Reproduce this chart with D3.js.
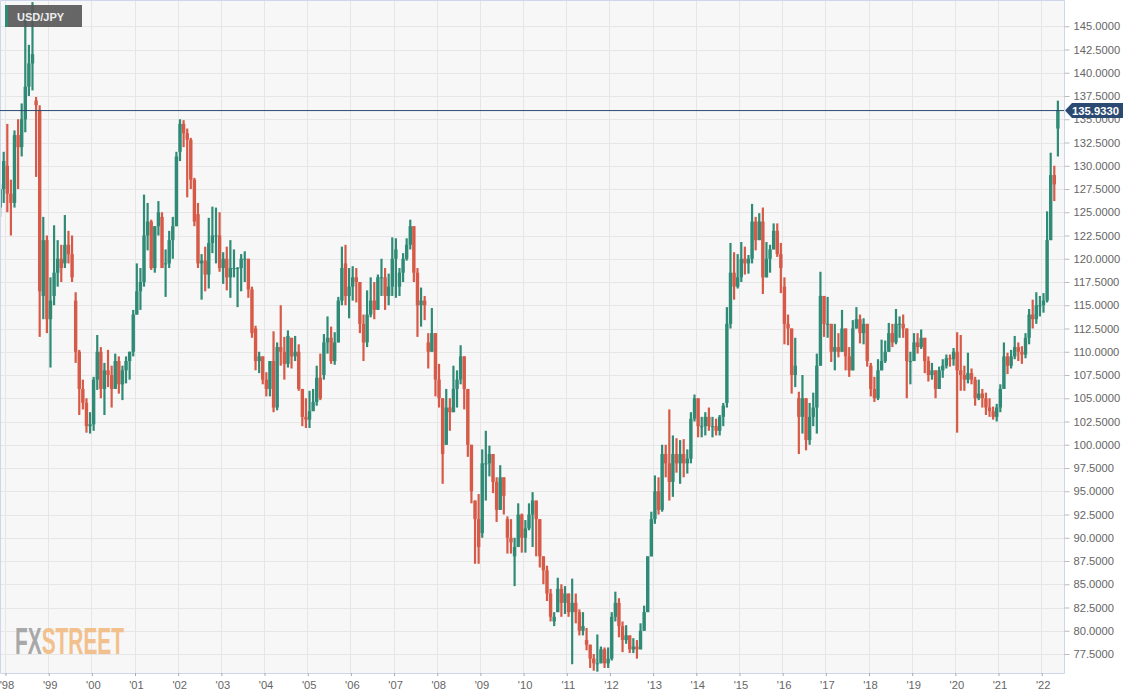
<!DOCTYPE html>
<html><head><meta charset="utf-8">
<script src="https://cdn.jsdelivr.net/npm/d3@7/dist/d3.min.js"></script>
<style>
html,body{margin:0;padding:0;background:#fff;overflow:hidden}
svg{display:block}
text{font-family:"Liberation Sans",Arial,sans-serif}
</style></head><body><svg id="c" width="1141" height="699"></svg>
<script>
// monthly candles, Nov 1997 onward
const firstMonth = 1997 + 10/12;
const open = [125.5,127.5,
130,127,126,133.3,132,135,138.5,141,137,136,116,122,
113.5,116,118.5,120,119.5,121.5,120.5,115.5,110,106,104.5,102,
102.2,107,110,106,108,107.5,106,109,106.5,108,109,110,
114,116.5,117.5,122.5,124,119,123.5,124.5,119.5,119.5,122,123.5,
131.5,134.5,133.5,132.8,128.5,124.8,119.5,119.8,118.3,121.7,122.5,122.5,
119,120,118,119,119,119,120,120,116.7,112.5,109,109.5,
107,106,109,104,110.5,110,108.7,111.5,109.5,110,106,103,
102.7,103.6,104.6,107.2,107.5,111,111.5,109,111,115.5,119.5,116,
117,118,117.5,113,111,114,115.5,114.5,118,118,116,117,
120,117,118.5,120,121.5,123.5,118.5,115,115.5,111,110,112,
107,105,100,104,103.5,106,107,109.5,106,100,94,92,
90.5,98,98,99,96,93,96.5,92,90,88,89,92.5,
90,91,92.5,94,92,88,86.5,84,81,82,84.5,83,
84,82,83,82,80,79,78.5,77,76.5,76.5,78,76.5,
77,81.5,83,80.5,79,79.5,78,78.3,78,80,82,88,
92,95,93,99,98,96,99,98,99,98,98.5,102.8,
105,102,102,103,102,102,101.5,103,104.5,113,118.5,117,
118,120,119.5,120,124,122,124,118,120,121,123,120.5,
117,113,112.5,107.5,105,103,105,100.5,103,104,108.5,116,
113,113,110,110.5,110,112.5,109.5,108,112.5,113.5,112,113,
108.5,106,105,108,109,110,112,111,113,113,112.5,109,
109,111,110.5,111.5,109,107.5,108,106,108,108.5,109.3,109.2,
110,108,107.5,107,107.7,107,105,105.5,105,104,103.6,103,
104,106,109.5,108.5,109.5,110.5,110,109.7,111.5,114,113.5,115,
115,115.5,122,129,134];
const high = [128,131.5,
134.5,128.5,133.8,135,136.7,146.7,143,147.6,137.4,136.5,124.5,122.5,
118,123.6,122,121.5,124.7,123,122.5,116.4,110.2,107,105,103.5,
107.3,111.8,110.5,108.8,110.2,108.5,109.8,109.5,108.5,109.5,110,114.5,
119.5,119,126.9,126,124.2,123.5,126.2,125,121,123,124.5,131.5,
135,134.9,134,133,128.7,126,120.5,121.3,124.4,125.6,125.5,125,
120.7,121.3,122,121,119.1,120.5,120.8,120,117,112.8,110,109.5,
107.8,109,112.2,111,115,111.6,112.3,111.5,111.7,110.8,106,105,
105.8,106,108.5,109.8,111.9,113.8,112.7,112.1,115.9,121.3,121.5,119,
119.2,119,117.5,114,116.6,118,117.5,118.3,120,119,118.4,122.3,
122.2,119,120.6,122.2,124.2,123.5,119,116.9,116,112,114.7,112,
108.7,105,106,105,108.5,108,110.7,109.5,106,100,94,94.7,
99.5,101.5,99.9,99,96.5,97.8,96.5,92.3,92,90,93.7,92.6,
91.9,93.7,94.9,94,92,88,87,84.5,82,85.7,85,84.8,
84,85.6,84,82.3,82,80.3,78.5,77.5,79.6,78.3,78.2,78.2,
82,84.2,83.5,81,80.6,79.5,79.2,79,80.8,82.7,88,92.8,
96.7,96.5,100,100,103.8,101,100.7,100.5,100.6,99.5,103.5,105.4,
105,103,103.5,104,103,102.8,103.2,104.5,114.8,121.7,120.7,120.5,
121.8,121.3,120.4,125.9,124.5,124.9,125.5,121.8,121.5,123.8,123.8,121.7,
118,114,112.5,111.5,105.7,107.5,105,104.5,105.6,109.8,118.6,116,
115.9,113,113,112,114.5,112.5,110.5,113.4,114.8,114,113.6,113,
108.8,107.3,109.2,111.3,111.2,113.1,113,114.6,113.8,114,112.5,110,
112,112,112.4,111.5,109.5,108.8,108,108.4,109.2,109.7,109.7,110.4,
112.1,111.8,108.5,109.9,108.2,107.3,107,106,105.6,105,104.1,104.4,
106.5,111,109.9,110.2,111.7,111,110.6,112,114.6,115.6,116.4,116,
116.3,125.1,131.4,130,137];
const low = [124.5,126,
125,122.5,125.5,127.5,131,133.6,137.5,138.1,128.8,111.6,113.5,112,
108.3,115,117,117.5,119,119.5,117.5,108.8,103.2,103.8,101.3,101.2,
101.5,105.9,105,103.2,106.2,104,106,105.5,104.8,106.6,107,109.5,
114,114.5,117,120.9,118.8,118.5,122.5,119.5,115.9,119,120,123.5,
130.5,132,126.6,127.5,123.5,119,115.6,116.5,116.8,120.6,119.5,118.6,
117.3,116.6,115.8,118,114.8,116.5,117.5,115.8,111.5,108,107.7,106.5,
105.2,105.2,103.5,103.7,108.5,107,108.3,108.2,109,105.8,102,101.8,
101.8,103.7,104.2,104.8,107,109.8,108.7,108.6,111,115,115,113.6,
115.5,115.3,112,109,110.5,113.7,113.5,114.5,116,114.5,115,116,
115.8,116,117.5,119.8,121,117.5,111.6,112.7,113.4,108.2,110,105.2,
104,95.8,100,101.5,103.5,104,106.5,103.8,98.7,93.7,87.2,87.2,
90,94,96.6,94.8,91.7,93,92.5,88.3,88.3,84.8,89.2,88.4,
88.4,90.8,89,88,86.8,85,83.2,81,80.5,82,81.5,81.8,
81.5,76.4,80.8,79.5,79.5,77.9,76,75.7,75.6,76.5,76,76,
76.8,81,79.3,77.7,78.6,77.6,77.6,77,78,80,82,88,
91.5,92.5,92.8,96.5,94,94.4,97,95.8,96.5,96.9,98,102.5,
100.8,100.8,101,101.5,100.8,101,101,102,104,112.5,115.6,116.8,
117.5,118.3,118.4,119.5,120.9,122,116.2,118,118.5,121,120.2,116.3,
110.8,110.7,105.5,106.2,99,101.2,99.4,100,102,101.2,108.5,111.6,
111.5,108.9,108,109.4,110,108,107.3,108,112.5,110.9,110.8,108.4,
105.2,104.6,104.8,108,108.8,110,110.5,110.8,111.5,111.5,105,106.5,
109,109.8,110.3,107.7,106.8,107,105,106,107.2,108.2,108.4,108.5,
101.3,105.8,105.8,106.6,106.5,104.2,104.8,104,103.2,103,102.7,102.5,
103.5,106,107.6,108.2,109.2,109,108.7,109.3,110.8,112.5,113,113.8,
114.2,115.3,122,126.2,131];
const close = [127.5,130.5,
127,126,133.3,132,135,138.5,141,142,136.5,116.5,122,113.5,
115.5,118.5,120,119,121.5,120.5,118,110,106,104.5,102,102.2,
107,110,106,108,107.5,106,109,106.5,108,109,110,114,
116.5,117.5,122.5,124,119,123.5,125,119,119.5,122,123.5,131,
134.5,133.5,132.8,128.5,124,119.5,119.8,118.3,121.7,122.5,122.5,119,
120,118,119,119,119,120,120,116.7,112,109,109.5,107,
106,109,104,110.5,110,108.7,111.7,109.5,110,106,103,102.7,
103.6,104.6,107.2,105,111,111.5,109,111,115.5,119,116,117,
118,117.5,113,111,114,115.5,114.5,118,118,116,117,120,
121,118.5,120,121.5,123.5,118.5,115,115.5,115,110,112,107,
105,99,104,103.5,106,107,109.5,106,100,95,92,89,
98,98,99,96,93,96.5,94.5,90,89.5,89,92.5,90,
91,92.5,94,92,88,86.5,84,81.5,81.5,84.5,83,84,
82,83,82,80,80.5,78.5,77,76.5,76.5,78,76.5,77,
81.5,83,80.5,79,79.5,78,78.3,78,80,82,88,92,
95,93,99,98,96,99,98,99,98,98.5,102.8,105,
102,102,103,102,102,101.5,103,104.2,113,118.5,117,118,
120,119.5,120,124,122,124,118,120,121,123,120.5,119,
113,112.5,107.5,108.5,103,105,100.5,103,104,108.5,116,113,
113,110,110.5,110,112.5,109.5,108,112.5,113.5,112,113,109,
106,105,108,109,110,112,111,113,113,112.5,109,109,
111,110.5,111.5,109,107.5,108,106,108,108.5,109.3,109.2,110,
108,107.5,107,107.7,107,105,105.5,105,104,103.6,103,104,
106,109.5,108.5,109.5,110.5,110,109.7,111.5,114,113.5,115,115,
115.5,122,129,128,135.933];
const yearTicks = d3.range(1998, 2023);
const yearLabels = ["'98","'99","'00","'01","'02","'03","'04","'05","'06","'07","'08","'09","'10","'11","'12","'13","'14","'15","'16","'17","'18","'19","'20","'21","'22"];
const priceTicks = [77.5,80,82.5,85,87.5,90,92.5,95,97.5,100,102.5,105,107.5,110,112.5,115,117.5,120,122.5,125,127.5,130,132.5,135,137.5,140,142.5,145];
const lastPrice = 135.933;
const title = "USD/JPY";

const plot = {l:1, t:1, r:1064, b:673};
const x = d3.scaleLinear().domain([1998,2022]).range([5.5,1041.7]);
const y = d3.scaleLinear().domain([77.5,145]).range([654,26.25]);
const svg = d3.select("#c");
const GREEN="#2f8a76", RED="#d65a47", GRID="#e6e6e6", EDGE="#cdd6ea", NAVY="#2a4a72", TXT="#666";

svg.append("rect").attr("x",plot.l).attr("y",plot.t).attr("width",plot.r-plot.l).attr("height",plot.b-plot.t)
  .attr("fill","#f7f7f7");

const grid = svg.append("g").attr("stroke",GRID).attr("stroke-width",1);
grid.selectAll("line.h").data(priceTicks).join("line").attr("class","h")
  .attr("x1",plot.l).attr("x2",plot.r).attr("y1",d=>Math.round(y(d))+.5).attr("y2",d=>Math.round(y(d))+.5);
grid.selectAll("line.v").data(yearTicks).join("line").attr("class","v")
  .attr("y1",plot.t).attr("y2",plot.b).attr("x1",d=>Math.floor(x(d))+.5).attr("x2",d=>Math.floor(x(d))+.5);

// watermark
const wm = svg.append("text").attr("x",15).attr("y",654).attr("font-weight","700").attr("font-size",37.5)
  .attr("textLength",109).attr("lengthAdjust","spacingAndGlyphs")
  .style("font-family","'Liberation Sans Narrow','Liberation Sans',sans-serif");
wm.append("tspan").attr("fill","#a8a8a8").text("FX");
wm.append("tspan").attr("fill","#f2c08c").text("STREET");

// candles
svg.append("clipPath").attr("id","pc").append("rect").attr("x",plot.l).attr("y",plot.t).attr("width",plot.r-plot.l).attr("height",plot.b-plot.t);
const idx = d3.range(open.length);
const t = i => x(firstMonth + (i+.5)/12);
const col = i => close[i]>=open[i] ? GREEN : RED;
const cg = svg.append("g").attr("clip-path","url(#pc)");
cg.selectAll("line").data(idx).join("line")
  .attr("x1",t).attr("x2",t).attr("y1",i=>y(high[i])).attr("y2",i=>y(low[i]))
  .attr("stroke",col).attr("stroke-width",2.2);
cg.selectAll("rect").data(idx).join("rect")
  .attr("x",i=>t(i)-1.7).attr("width",3.4)
  .attr("y",i=>y(Math.max(open[i],close[i])))
  .attr("height",i=>Math.max(1,Math.abs(y(open[i])-y(close[i]))))
  .attr("fill",col);

// plot frame
svg.append("path").attr("d",`M${plot.l-.5},${plot.b}V${plot.t-.5}H${plot.r+.5}V${plot.b+.5}H${plot.l-.5}`)
  .attr("fill","none").attr("stroke",EDGE).attr("stroke-width",1);

// axes
const ya = svg.append("g").attr("transform",`translate(${plot.r+.5},0)`)
  .call(d3.axisRight(y).tickValues(priceTicks).tickSize(5).tickPadding(4).tickFormat(d3.format(".4f")));
ya.select(".domain").remove();
ya.selectAll("line").attr("stroke","#bbb");
ya.selectAll("text").attr("fill",TXT).attr("font-size",11.2).style("font-family","'Liberation Sans',Arial,sans-serif");
const xa = svg.append("g").attr("transform",`translate(0,${plot.b})`)
  .call(d3.axisBottom(x).tickValues(yearTicks).tickSize(3).tickPadding(5).tickFormat(d=>yearLabels[yearTicks.indexOf(d)]));
xa.select(".domain").remove();
xa.selectAll("line").attr("stroke","#aaa");
xa.selectAll("text").attr("fill",TXT).attr("font-size",11.2).attr("dx",1).style("font-family","'Liberation Sans',Arial,sans-serif");

// last price
const py = y(lastPrice);
svg.append("line").attr("x1",0).attr("x2",plot.r).attr("y1",py).attr("y2",py).attr("stroke",NAVY).attr("stroke-width",1);
svg.append("path").attr("d",`M${plot.r+1},${py}L${plot.r+8},${py-7.5}H1123V${py+7.5}H${plot.r+8}Z`)
  .attr("fill",NAVY);
svg.append("text").attr("x",1072).attr("y",py+4.2).attr("fill","#fff").attr("font-weight","700").attr("font-size",11.3)
  .text(d3.format(".4f")(lastPrice));

// title
svg.append("rect").attr("x",5).attr("y",5).attr("width",77).attr("height",22).attr("fill","#555").attr("fill-opacity",.9);
svg.append("rect").attr("x",5).attr("y",5).attr("width",3).attr("height",22).attr("fill",GREEN);
svg.append("text").attr("x",17).attr("y",21).attr("fill","#eee").attr("font-weight","700").attr("font-size",11).text(title);
</script></body></html>
